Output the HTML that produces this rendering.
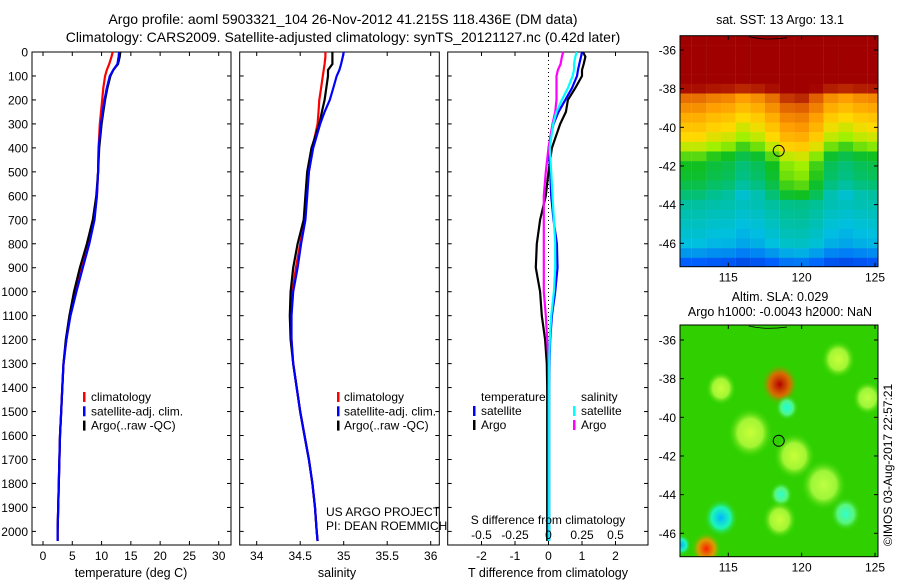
<!DOCTYPE html>
<html><head><meta charset="utf-8"><style>
html,body{margin:0;padding:0;background:#fff;}
svg{display:block;font-family:"Liberation Sans",sans-serif;}
</style></head><body>
<svg id="fig" width="900" height="580" viewBox="0 0 900 580">
<text x="343" y="24" font-size="14" text-anchor="middle">Argo profile: aoml 5903321_104 26-Nov-2012 41.215S 118.436E (DM data)</text>
<text x="343" y="42" font-size="14" text-anchor="middle">Climatology: CARS2009. Satellite-adjusted climatology: synTS_20121127.nc (0.42d later)</text>
<text x="780" y="24" font-size="12.5" text-anchor="middle">sat. SST: 13 Argo: 13.1</text>
<text x="780" y="301" font-size="12.5" text-anchor="middle">Altim. SLA: 0.029</text>
<text x="780" y="316" font-size="12.5" text-anchor="middle">Argo h1000: -0.0043 h2000: NaN</text>
<text transform="translate(892,465) rotate(-90)" font-size="12" text-anchor="middle">©IMOS 03-Aug-2017 22:57:21</text>
</svg>
<script>
const depths=[0,20,50,75,100,150,200,250,300,400,500,600,700,800,900,1000,1100,1200,1300,1400,1500,1600,1700,1800,1900,2000,2040];
const tArgo=[13.2,13.1,12.8,12.0,11.5,11.0,10.6,10.3,10.0,9.6,9.4,9.1,8.5,7.5,6.3,5.3,4.5,3.9,3.5,3.3,3.1,2.9,2.8,2.7,2.6,2.5,2.5];
const tClim=[11.9,11.7,11.3,10.9,10.6,10.3,10.1,9.9,9.7,9.5,9.4,9.2,8.7,7.8,6.6,5.5,4.6,4.0,3.5,3.3,3.1,2.9,2.8,2.7,2.6,2.5,2.5];
const tSat=[13.0,12.9,12.7,12.0,11.4,10.9,10.5,10.2,9.9,9.5,9.4,9.2,8.8,7.9,6.8,5.7,4.7,4.0,3.5,3.3,3.1,2.9,2.8,2.7,2.6,2.5,2.5];
const sArgo=[34.87,34.87,34.87,34.82,34.82,34.80,34.78,34.75,34.72,34.63,34.58,34.56,34.54,34.47,34.42,34.39,34.38,34.39,34.42,34.46,34.50,34.55,34.60,34.64,34.67,34.69,34.70];
const sClim=[34.79,34.79,34.78,34.77,34.76,34.74,34.72,34.71,34.70,34.64,34.60,34.57,34.55,34.50,34.45,34.41,34.39,34.40,34.42,34.46,34.50,34.55,34.60,34.64,34.67,34.69,34.70];
const sSat=[35.00,34.99,34.97,34.95,34.92,34.88,34.84,34.78,34.73,34.65,34.60,34.58,34.56,34.51,34.47,34.42,34.40,34.40,34.42,34.46,34.50,34.55,34.60,34.64,34.67,34.69,34.70];
const dTArgo=[1.03,1.1,1.05,1.0,1.0,0.8,0.58,0.52,0.35,0.1,0.0,-0.08,-0.25,-0.35,-0.38,-0.25,-0.2,-0.1,-0.05,-0.04,-0.04,-0.04,-0.04,-0.04,-0.04,-0.04,-0.04];
const dTSat=[1.0,0.97,0.92,0.88,0.85,0.7,0.5,0.3,0.15,0.0,0.05,0.08,0.15,0.25,0.27,0.2,0.1,0.05,0.03,0.02,0.02,0.02,0.02,0.02,0.02,0.02,0.02];
const dSArgo=[0.11,0.1,0.09,0.07,0.06,0.06,0.06,0.05,0.03,0.0,-0.02,-0.035,-0.035,-0.035,-0.035,-0.035,-0.02,-0.01,0,0,0,0,0,0,0,0,0];
const dSSat=[0.21,0.2,0.19,0.19,0.18,0.145,0.1,0.06,0.035,0.01,0.02,0.03,0.04,0.05,0.05,0.04,0.02,0.01,0.005,0.005,0.005,0.005,0.005,0.005,0.005,0.005,0.005];
const depthTicks=[0,100,200,300,400,500,600,700,800,900,1000,1100,1200,1300,1400,1500,1600,1700,1800,1900,2000];
const tTicks=[0,5,10,15,20,25,30];
const sTicks=[34,34.5,35,35.5,36];
const sTickLabels=["34","34.5","35","35.5","36"];
const dTTicks=[-2,-1,0,1,2];
const dSTicks=[-0.5,-0.25,0,0.25,0.5];
const dSTickLabels=["-0.5","-0.25","0","0.25","0.5"];
const sstLats=[-35.5,-36,-36.5,-37,-37.5,-38,-38.5,-39,-39.5,-40,-40.5,-41,-41.5,-42,-42.5,-43,-43.5,-44,-44.5,-45,-45.5,-46,-46.5,-47];
const sstRow=[16.0,16.0,16.0,15.9,15.8,15.4,14.6,14.2,13.8,13.5,13.2,12.8,12.3,12.0,11.9,11.7,11.4,11.1,11.0,10.9,10.8,10.7,10.4,10.0];
const sstLons=[112,113,114,115,116,117,118,119,120,121,122,123,124,125];
const sstColOffset=[0,0,-0.2,-0.3,-0.6,-0.4,0,0.5,0.6,0.2,-0.4,-0.6,-0.4,-0.3];
const sstCmapVals=[9,10,10.7,11.2,12,12.6,13.2,14,14.8,15.5];
const sstCmapCols=[[0,0,144],[0,96,255],[0,192,224],[0,192,144],[16,192,32],[160,240,0],[255,216,0],[255,160,0],[224,96,0],[160,0,0]];
const slaBlobs=[[118.5,-38.3,0.95,1.0],[114.5,-45.2,0.3,0.9],[113.5,-46.8,0.85,0.8],[111.8,-46.6,0.3,0.5],[119,-39.5,0.4,0.6],[118.6,-44,0.42,0.6],[116.5,-40.8,0.57,1.2],[119.5,-42,0.57,1.1],[121.5,-43.5,0.56,1.2],[122.5,-37,0.57,0.9],[114.5,-38.5,0.57,0.8],[118.5,-45.3,0.57,0.9],[124.5,-39,0.56,0.8],[123,-45,0.42,0.8]];
const mapLonTicks=[115,120,125];
const mapLatTicks=[-36,-38,-40,-42,-44,-46];
const argoLon=118.436, argoLat=-41.215;

const svg=document.getElementById('fig');
const NS='http://www.w3.org/2000/svg';
function mk(tag,attrs,parent){const e=document.createElementNS(NS,tag);for(const k in attrs)e.setAttribute(k,attrs[k]);(parent||svg).appendChild(e);return e;}
const Y0=52,Y1=545;
function yD(d){return 52+d*0.2397;}
function jet(v){v=Math.max(0,Math.min(1,v));const r=Math.max(0,Math.min(1,Math.min(4*v-1.5,-4*v+4.5)));const g=Math.max(0,Math.min(1,Math.min(4*v-0.5,-4*v+3.5)));const b=Math.max(0,Math.min(1,Math.min(4*v+0.5,-4*v+2.5)));return `rgb(${Math.round(r*255)},${Math.round(g*255)},${Math.round(b*255)})`;}
function sstColor(v){
  if(v<=sstCmapVals[0])return `rgb(${sstCmapCols[0].join(',')})`;
  for(let i=1;i<sstCmapVals.length;i++){if(v<=sstCmapVals[i]){const t=(v-sstCmapVals[i-1])/(sstCmapVals[i]-sstCmapVals[i-1]);const a=sstCmapCols[i-1],b=sstCmapCols[i];return `rgb(${a.map((c,k)=>Math.round(c+(b[k]-c)*t)).join(',')})`;}}
  return `rgb(${sstCmapCols[sstCmapCols.length-1].join(',')})`;
}

function panel(name,x0,x1){
  const f=mk('rect',{x:x0,y:Y0,width:x1-x0,height:Y1-Y0,fill:'none',stroke:'#000','stroke-width':1});
  
  
  depthTicks.forEach(d=>{mk('line',{x1:x0,x2:x0+4,y1:yD(d),y2:yD(d),stroke:'#000'});mk('line',{x1:x1-4,x2:x1,y1:yD(d),y2:yD(d),stroke:'#000'});});
}
function line(vals,xf,color,name,w){
  const pts=vals.map((v,i)=>xf(v).toFixed(1)+','+yD(depths[i]).toFixed(1)).join(' ');
  const p=mk('polyline',{points:pts,fill:'none',stroke:color,'stroke-width':w||2.2});
  
  
}
function txt(x,y,s,anchor,size,name){const t=mk('text',{x:x,y:y,'font-size':size||12,'text-anchor':anchor||'middle'});t.textContent=s;return t;}

// Panel 1: temperature
const xT=v=>43+v*5.857;
panel('temperature-panel',32,231);
depthTicks.forEach(d=>{txt(28,yD(d)+4.5,String(d),'end',12,'y-tick-label');});
tTicks.forEach(v=>{mk('line',{x1:xT(v),x2:xT(v),y1:Y1,y2:Y1-4,stroke:'#000'});mk('line',{x1:xT(v),x2:xT(v),y1:Y0,y2:Y0+4,stroke:'#000'});txt(xT(v),560,String(v),'middle',12,'x-tick-label');});
txt(131,577,'temperature (deg C)','middle',12.5,'x-axis-title-temperature');
line(tClim,xT,'#f00','temp-climatology-line');
line(tArgo,xT,'#000','temp-argo-line');
line(tSat,xT,'#00f','temp-satellite-line');
[['#f00','climatology'],['#00f','satellite-adj. clim.'],['#000','Argo(..raw -QC)']].forEach((l,i)=>{mk('rect',{x:83,y:392+i*14.3,width:2.5,height:10,fill:l[0]});txt(91,401+i*14.3,l[1],'start',12,'legend-entry');});

// Panel 2: salinity
const xS=v=>256.7+(v-34)*87;
panel('salinity-panel',239.7,439.3);
sTicks.forEach((v,i)=>{mk('line',{x1:xS(v),x2:xS(v),y1:Y1,y2:Y1-4,stroke:'#000'});mk('line',{x1:xS(v),x2:xS(v),y1:Y0,y2:Y0+4,stroke:'#000'});txt(xS(v),560,sTickLabels[i],'middle',12,'x-tick-label');});
txt(337,577,'salinity','middle',12.5,'x-axis-title-salinity');
line(sClim,xS,'#f00','sal-climatology-line');
line(sArgo,xS,'#000','sal-argo-line');
line(sSat,xS,'#00f','sal-satellite-line');
[['#f00','climatology'],['#00f','satellite-adj. clim.'],['#000','Argo(..raw -QC)']].forEach((l,i)=>{mk('rect',{x:337,y:392+i*14.3,width:2.5,height:10,fill:l[0]});txt(344,401+i*14.3,l[1],'start',12,'legend-entry');});
txt(326,516,'US ARGO PROJECT','start',12,'credit-project');
txt(326,530,'PI: DEAN ROEMMICH','start',12,'credit-pi');

// Panel 3: differences
const xdT=v=>548.5+v*33.5;
const xdS=v=>548.5+v*134;
panel('difference-panel',447.7,648);
mk('line',{x1:xdT(0),x2:xdT(0),y1:Y0,y2:Y1,stroke:'#000','stroke-dasharray':'1,3'});
dTTicks.forEach(v=>{mk('line',{x1:xdT(v),x2:xdT(v),y1:Y1,y2:Y1-4,stroke:'#000'});mk('line',{x1:xdT(v),x2:xdT(v),y1:Y0,y2:Y0+4,stroke:'#000'});txt(xdT(v),560,String(v),'middle',12,'x-tick-label');});
line(dTArgo,xdT,'#000','tdiff-argo-line');
line(dTSat,xdT,'#00f','tdiff-satellite-line');
line(dSArgo,xdS,'#f0f','sdiff-argo-line');
line(dSSat,xdS,'#0ff','sdiff-satellite-line');
dSTicks.forEach((v,i)=>{txt(xdS(v),539,dSTickLabels[i],'middle',12,'s-diff-tick-label');});
txt(548,524,'S difference from climatology','middle',12,'s-diff-axis-title');
txt(548,577,'T difference from climatology','middle',12.5,'x-axis-title-tdiff');
txt(481,401,'temperature','start',12,'legend-heading-temperature');
txt(581,401,'salinity','start',12,'legend-heading-salinity');
[['#00f','satellite',473],['#000','Argo',473],['#0ff','satellite',573],['#f0f','Argo',573]].forEach((l,i)=>{const r=i%2;mk('rect',{x:l[2],y:406+r*14,width:2.5,height:10,fill:l[0]});txt(l[2]+8,415+r*14,l[1],'start',12,'legend-entry');});

// Maps
const mxL=680,mxR=878;
const mLon=v=>728.3+(v-115)*14.67;
const sstLat=v=>50+(-36-v)*19.33;
const slaLat=v=>340+(-36-v)*19.33;
const defs=mk('defs',{});
const c1=mk('clipPath',{id:'c1'},defs);mk('rect',{x:mxL,y:35.7,width:mxR-mxL,height:231},c1);
const c2=mk('clipPath',{id:'c2'},defs);mk('rect',{x:mxL,y:325,width:mxR-mxL,height:231.7},c2);
const g1=mk('g',{'clip-path':'url(#c1)'});


sstLats.forEach((la,i)=>{sstLons.forEach((lo,j)=>{const v=sstRow[i]+sstColOffset[j]*(Math.abs(la+41)<3?1:0.3);const c=mk('rect',{x:mLon(lo-0.5),y:sstLat(la+0.25),width:14.8,height:9.9,fill:sstColor(v)},g1);});});
const g2=mk('g',{'clip-path':'url(#c2)'});


mk('rect',{x:mxL,y:325,width:mxR-mxL,height:232,fill:'#30d000'},g2);
slaBlobs.forEach((b,i)=>{const gr=mk('radialGradient',{id:'bl'+i},defs);mk('stop',{offset:'0','stop-color':jet(b[2])},gr);mk('stop',{offset:'0.55','stop-color':jet(b[2]*0.6+0.55*0.4),'stop-opacity':0.8},gr);mk('stop',{offset:'1','stop-color':'#30d000','stop-opacity':0},gr);
 const e=mk('ellipse',{cx:mLon(b[0]),cy:slaLat(b[1]),rx:b[3]*14.67*1.3,ry:b[3]*19.33*1.1,fill:'url(#bl'+i+')'},g2);});
[[35.7,266.7,sstLat,'sst'],[325,556.7,slaLat,'sla']].forEach(m=>{
  const f=mk('rect',{x:mxL,y:m[0],width:mxR-mxL,height:m[1]-m[0],fill:'none',stroke:'#000'});
  
  mapLatTicks.forEach(la=>{const y=m[2](la);mk('line',{x1:mxL,x2:mxL+4,y1:y,y2:y,stroke:'#000'});mk('line',{x1:mxR-4,x2:mxR,y1:y,y2:y,stroke:'#000'});txt(mxL-4,y+4.5,String(la),'end',12,'map-lat-label');});
  mapLonTicks.forEach(lo=>{const x=mLon(lo);mk('line',{x1:x,x2:x,y1:m[0],y2:m[0]+4,stroke:'#000'});mk('line',{x1:x,x2:x,y1:m[1],y2:m[1]-4,stroke:'#000'});txt(x,m[1]+15,String(lo),'middle',12,'map-lon-label');});
  const c=mk('circle',{cx:mLon(argoLon),cy:m[2](argoLat),r:5.5,fill:'none',stroke:'#000'});
  
  mk('path',{d:`M${mLon(116.4)},${m[0]+1} Q${mLon(117.5)},${m[0]+5} ${mLon(119)},${m[0]+2}`,fill:'none',stroke:'#000','stroke-width':0.8});
});
</script>
</body></html>
